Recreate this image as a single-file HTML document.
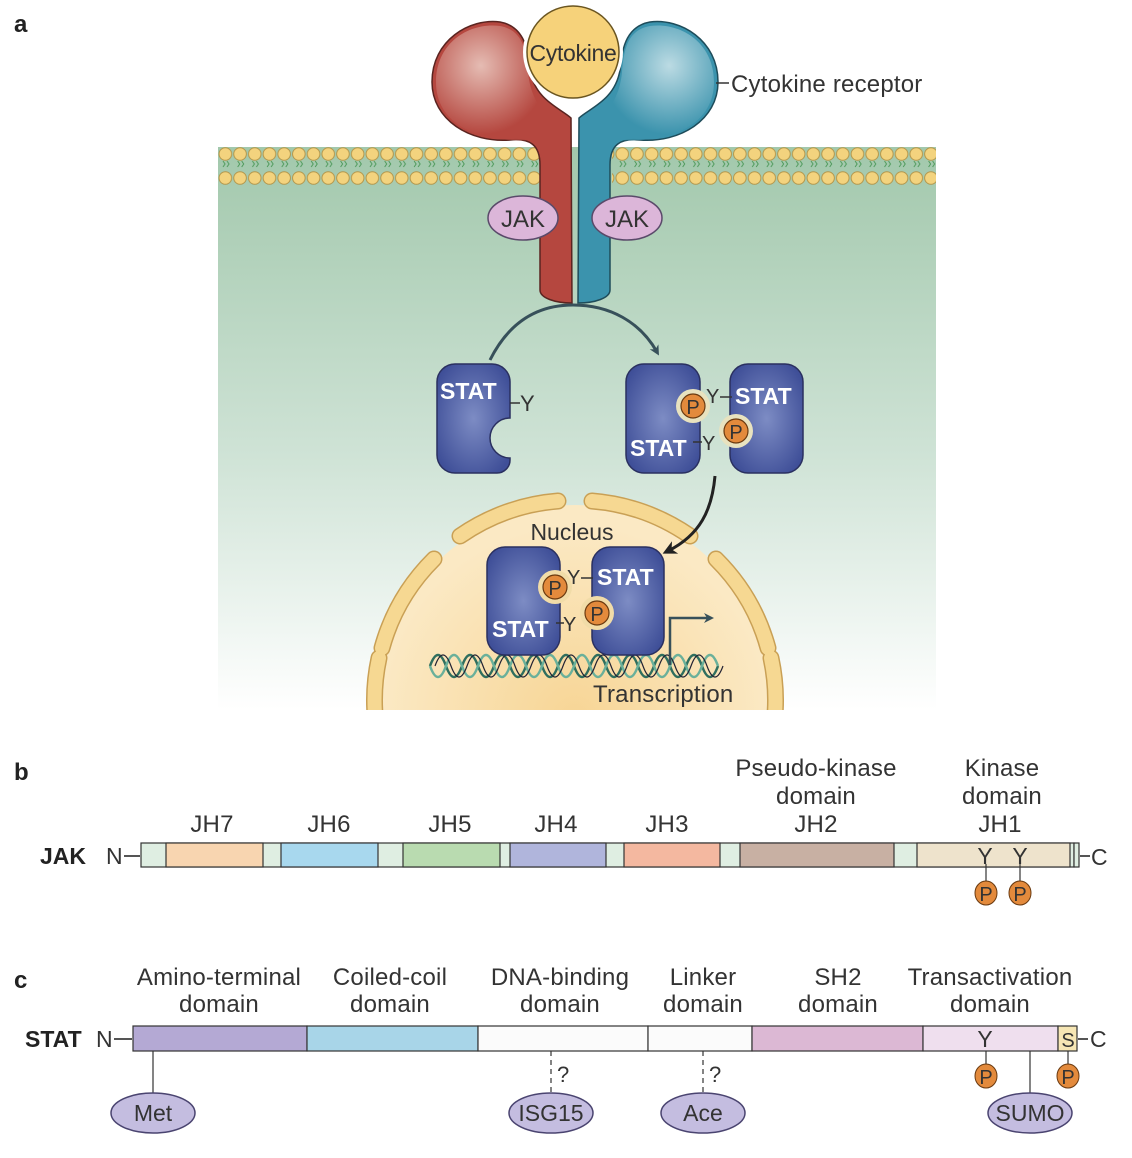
<!DOCTYPE html>
<html><head><meta charset="utf-8"><style>
html,body{margin:0;padding:0;background:#fff}
svg{display:block}
text{font-family:"Liberation Sans",sans-serif;fill:#333}
</style></head><body>
<svg width="1132" height="1158" viewBox="0 0 1132 1158" xmlns="http://www.w3.org/2000/svg">
<defs>
<linearGradient id="bg" x1="0" y1="0" x2="0" y2="1"><stop offset="0" stop-color="#a2c8ac"/><stop offset="0.55" stop-color="#cfe3d6"/><stop offset="1" stop-color="#ffffff"/></linearGradient>
<radialGradient id="nuc" cx="0.5" cy="0.55" r="0.5"><stop offset="0" stop-color="#f7d595"/><stop offset="1" stop-color="#fbe9c4"/></radialGradient>
<radialGradient id="rh" cx="0.4" cy="0.35" r="0.6"><stop offset="0" stop-color="#f1d9d0"/><stop offset="1" stop-color="#b5473f"/></radialGradient>
<radialGradient id="bh" cx="0.6" cy="0.35" r="0.6"><stop offset="0" stop-color="#dcedf1"/><stop offset="1" stop-color="#3b93ad"/></radialGradient>
<radialGradient id="st" cx="0.5" cy="0.5" r="0.6"><stop offset="0" stop-color="#7d8cc4"/><stop offset="1" stop-color="#3f4f98"/></radialGradient>
<pattern id="lip" patternUnits="userSpaceOnUse" x="218" y="147" width="14.7" height="24">
<circle cx="7.35" cy="7" r="6.3" fill="#f3d37e" stroke="#b4964a" stroke-width="1"/>
<path d="M5,14 l2,3 l-2,3 M9,14 l2,3 l-2,3" stroke="#4f9a5c" stroke-width="1" fill="none"/>
</pattern>
<clipPath id="ca"><rect x="218" y="0" width="718" height="710"/></clipPath>
<marker id="ah" markerWidth="10" markerHeight="10" refX="6" refY="5" orient="auto" markerUnits="userSpaceOnUse"><path d="M0,0 L10,5 L0,10 L3,5 Z" fill="#37505a"/></marker>
<marker id="ah2" markerWidth="14" markerHeight="14" refX="8" refY="7" orient="auto" markerUnits="userSpaceOnUse"><path d="M0,0 L14,7 L0,14 L4,7 Z" fill="#222"/></marker>
</defs>

<text x="14" y="32" font-size="24" font-weight="bold" style="fill:#222">a</text>
<text x="14" y="780" font-size="24" font-weight="bold" style="fill:#222">b</text>
<text x="14" y="988" font-size="24" font-weight="bold" style="fill:#222">c</text>

<g clip-path="url(#ca)">
<rect x="218" y="147" width="718" height="563" fill="url(#bg)"/>
<circle cx="575" cy="700" r="195" fill="url(#nuc)"/>
<g fill="none" stroke-linecap="round">
<g stroke="#c9a055" stroke-width="17">
<path d="M460,536 A200,200 0 0 1 558,501"/><path d="M592,501 A200,200 0 0 1 690,536"/>
<path d="M382,648 A200,200 0 0 1 434,559"/><path d="M716,559 A200,200 0 0 1 768,648"/>
<path d="M379,742 A200,200 0 0 1 379,658"/><path d="M771,658 A200,200 0 0 1 771,742"/>
</g>
<g stroke="#f6d892" stroke-width="14">
<path d="M460,536 A200,200 0 0 1 558,501"/><path d="M592,501 A200,200 0 0 1 690,536"/>
<path d="M382,648 A200,200 0 0 1 434,559"/><path d="M716,559 A200,200 0 0 1 768,648"/>
<path d="M379,742 A200,200 0 0 1 379,658"/><path d="M771,658 A200,200 0 0 1 771,742"/>
</g>
</g>
<rect x="218" y="147" width="322" height="38" fill="url(#lip)"/>
<rect x="612" y="147" width="324" height="38" fill="url(#lip)"/>
</g>

<path d="M540,290 L540,165 C540,145 530,138 510,140 C470,143 432,120 432,82 C432,40 470,18 500,22 C522,26 528,45 530,70 C535,100 560,108 571,118 L572,303 C555,303 540,298 540,290 Z" fill="#b5473f" stroke="#5a2420" stroke-width="1.5"/>
<path d="M532,140 C470,143 436,120 436,82 C436,42 470,22 500,26 C522,30 526,48 528,72 C530,95 540,108 548,118 Z" fill="url(#rh)" opacity="0.8"/>
<path d="M610,290 L610,165 C610,145 620,138 640,140 C680,143 718,120 718,82 C718,40 680,18 650,22 C628,26 622,45 620,70 C615,100 590,108 579,118 L578,303 C595,303 610,298 610,290 Z" fill="#3b93ad" stroke="#1e4c5a" stroke-width="1.5"/>
<path d="M618,140 C680,143 714,120 714,82 C714,42 680,22 650,26 C628,30 624,48 622,72 C620,95 610,108 602,118 Z" fill="url(#bh)" opacity="0.8"/>
<circle cx="573" cy="52" r="50" fill="#fff"/>
<circle cx="573" cy="52" r="46" fill="#f6d27a" stroke="#6a5520" stroke-width="1.5"/>
<text x="573" y="61" font-size="23" text-anchor="middle" letter-spacing="-0.3">Cytokine</text>
<line x1="716" y1="83" x2="729" y2="83" stroke="#333" stroke-width="1.5"/>
<text x="731" y="92" font-size="24" letter-spacing="0.2">Cytokine receptor</text>
<ellipse cx="523" cy="218" rx="35" ry="22" fill="#dcb6d9" stroke="#5a4a6a" stroke-width="1.5"/>
<text x="523" y="227" font-size="24" text-anchor="middle">JAK</text>
<ellipse cx="627" cy="218" rx="35" ry="22" fill="#dcb6d9" stroke="#5a4a6a" stroke-width="1.5"/>
<text x="627" y="227" font-size="24" text-anchor="middle">JAK</text>

<path d="M490,360 C510,320 540,305 573,305 C610,305 640,322 657,352" fill="none" stroke="#37505a" stroke-width="3" marker-end="url(#ah)"/>

<path d="M455,364 H492 A18,18 0 0 1 510,382 V418 A20,20 0 0 0 510,458 V460 A13,13 0 0 1 497,473 H455 A18,18 0 0 1 437,455 V382 A18,18 0 0 1 455,364 Z" fill="url(#st)" stroke="#2a3060" stroke-width="1.5"/>
<text x="440" y="399" font-size="23" font-weight="bold" style="fill:#fff">STAT</text>
<line x1="510" y1="403" x2="520" y2="403" stroke="#333" stroke-width="1.5"/>
<text x="520" y="411" font-size="22">Y</text>

<rect x="626" y="364" width="74" height="109" rx="18" fill="url(#st)" stroke="#2a3060" stroke-width="1.5"/>
<rect x="730" y="364" width="73" height="109" rx="18" fill="url(#st)" stroke="#2a3060" stroke-width="1.5"/>
<circle cx="693" cy="406" r="17" fill="#e8e2bf"/>
<circle cx="736" cy="431" r="17" fill="#e8e2bf"/>
<circle cx="693" cy="406" r="12" fill="#e38a3c" stroke="#6a3a10" stroke-width="1.2"/>
<text x="693" y="414" font-size="20" text-anchor="middle">P</text>
<circle cx="736" cy="431" r="12" fill="#e38a3c" stroke="#6a3a10" stroke-width="1.2"/>
<text x="736" y="439" font-size="20" text-anchor="middle">P</text>
<text x="706" y="403" font-size="20">Y</text>
<line x1="720" y1="397" x2="732" y2="397" stroke="#333" stroke-width="1.5"/>
<text x="735" y="404" font-size="23" font-weight="bold" style="fill:#fff">STAT</text>
<text x="630" y="456" font-size="23" font-weight="bold" style="fill:#fff">STAT</text>
<line x1="693" y1="442" x2="702" y2="442" stroke="#333" stroke-width="1.5"/>
<text x="702" y="450" font-size="20">Y</text>

<path d="M715,476 C712,510 700,535 668,551" fill="none" stroke="#222" stroke-width="3" marker-end="url(#ah2)"/>

<text x="572" y="540" font-size="23" text-anchor="middle">Nucleus</text>

<path d="M430,666 q8,-22 16,0 t16,0 t16,0 t16,0 t16,0 t16,0 t16,0 t16,0 t16,0 t16,0 t16,0 t16,0 t16,0 t16,0 t16,0 t16,0 t16,0 t16,0" fill="none" stroke="#2f6e5e" stroke-width="2.5"/>
<path d="M430,666 q8,22 16,0 t16,0 t16,0 t16,0 t16,0 t16,0 t16,0 t16,0 t16,0 t16,0 t16,0 t16,0 t16,0 t16,0 t16,0 t16,0 t16,0 t16,0" fill="none" stroke="#6ab09a" stroke-width="2.5"/>
<path d="M435,666 q8,-22 16,0 t16,0 t16,0 t16,0 t16,0 t16,0 t16,0 t16,0 t16,0 t16,0 t16,0 t16,0 t16,0 t16,0 t16,0 t16,0 t16,0 t16,0" fill="none" stroke="#223" stroke-width="1.2"/>

<rect x="487" y="547" width="73" height="108" rx="18" fill="url(#st)" stroke="#2a3060" stroke-width="1.5"/>
<rect x="592" y="547" width="72" height="108" rx="18" fill="url(#st)" stroke="#2a3060" stroke-width="1.5"/>
<circle cx="555" cy="587" r="17" fill="#f1dca8"/>
<circle cx="597" cy="613" r="17" fill="#f1dca8"/>
<circle cx="555" cy="587" r="12" fill="#e38a3c" stroke="#6a3a10" stroke-width="1.2"/>
<text x="555" y="595" font-size="20" text-anchor="middle">P</text>
<circle cx="597" cy="613" r="12" fill="#e38a3c" stroke="#6a3a10" stroke-width="1.2"/>
<text x="597" y="621" font-size="20" text-anchor="middle">P</text>
<text x="567" y="584" font-size="20">Y</text>
<line x1="581" y1="578" x2="593" y2="578" stroke="#333" stroke-width="1.5"/>
<text x="597" y="585" font-size="23" font-weight="bold" style="fill:#fff">STAT</text>
<text x="492" y="637" font-size="23" font-weight="bold" style="fill:#fff">STAT</text>
<line x1="556" y1="623" x2="564" y2="623" stroke="#333" stroke-width="1.5"/>
<text x="563" y="631" font-size="20">Y</text>
<path d="M670,665 V618 H710" fill="none" stroke="#37505a" stroke-width="2.5" marker-end="url(#ah)"/>
<text x="593" y="702" font-size="24" letter-spacing="0.2">Transcription</text>

<g font-size="24" letter-spacing="0.2">
<text x="212" y="832" text-anchor="middle">JH7</text>
<text x="329" y="832" text-anchor="middle">JH6</text>
<text x="450" y="832" text-anchor="middle">JH5</text>
<text x="556" y="832" text-anchor="middle">JH4</text>
<text x="667" y="832" text-anchor="middle">JH3</text>
<text x="816" y="776" text-anchor="middle">Pseudo-kinase</text>
<text x="816" y="804" text-anchor="middle">domain</text>
<text x="816" y="832" text-anchor="middle">JH2</text>
<text x="1002" y="776" text-anchor="middle">Kinase</text>
<text x="1002" y="804" text-anchor="middle">domain</text>
<text x="1000" y="832" text-anchor="middle">JH1</text>
</g>
<text x="40" y="864" font-size="23" font-weight="bold" style="fill:#222">JAK</text>
<text x="106" y="864" font-size="23">N</text>
<line x1="124" y1="856" x2="140" y2="856" stroke="#555" stroke-width="2"/>
<rect x="141" y="843" width="933" height="24" fill="#dfeee2" stroke="#333" stroke-width="1.2"/>
<rect x="1074" y="843" width="5" height="24" fill="#dfeee2" stroke="#333" stroke-width="1.2"/>
<g stroke="#333" stroke-width="1.2">
<rect x="166" y="843" width="97" height="24" fill="#f8d5b0"/>
<rect x="281" y="843" width="97" height="24" fill="#a8d8ee"/>
<rect x="403" y="843" width="97" height="24" fill="#b9dbb0"/>
<rect x="510" y="843" width="96" height="24" fill="#b0b5dc"/>
<rect x="624" y="843" width="96" height="24" fill="#f4b8a0"/>
<rect x="740" y="843" width="154" height="24" fill="#c8b0a3"/>
<rect x="917" y="843" width="153" height="24" fill="#eee3cc"/>
</g>
<line x1="1080" y1="856" x2="1090" y2="856" stroke="#555" stroke-width="2"/>
<text x="1091" y="865" font-size="23">C</text>
<text x="985" y="864" font-size="23" text-anchor="middle">Y</text>
<text x="1020" y="864" font-size="23" text-anchor="middle">Y</text>
<line x1="986" y1="864" x2="986" y2="881" stroke="#333" stroke-width="1.2"/>
<line x1="1020" y1="864" x2="1020" y2="881" stroke="#333" stroke-width="1.2"/>
<ellipse cx="986" cy="893" rx="11" ry="12" fill="#e38a3c" stroke="#6a3a10"/>
<text x="986" y="901" font-size="20" text-anchor="middle">P</text>
<ellipse cx="1020" cy="893" rx="11" ry="12" fill="#e38a3c" stroke="#6a3a10"/>
<text x="1020" y="901" font-size="20" text-anchor="middle">P</text>

<g font-size="24" letter-spacing="0.2" text-anchor="middle">
<text x="219" y="985">Amino-terminal</text><text x="219" y="1012">domain</text>
<text x="390" y="985">Coiled-coil</text><text x="390" y="1012">domain</text>
<text x="560" y="985">DNA-binding</text><text x="560" y="1012">domain</text>
<text x="703" y="985">Linker</text><text x="703" y="1012">domain</text>
<text x="838" y="985">SH2</text><text x="838" y="1012">domain</text>
<text x="990" y="985">Transactivation</text><text x="990" y="1012">domain</text>
</g>
<text x="25" y="1047" font-size="23" font-weight="bold" style="fill:#222">STAT</text>
<text x="96" y="1047" font-size="23">N</text>
<line x1="114" y1="1039" x2="132" y2="1039" stroke="#555" stroke-width="2"/>
<g stroke="#333" stroke-width="1.2">
<rect x="133" y="1026" width="174" height="25" fill="#b4a9d4"/>
<rect x="307" y="1026" width="171" height="25" fill="#a8d5e8"/>
<rect x="478" y="1026" width="170" height="25" fill="#fbfbfb"/>
<rect x="648" y="1026" width="104" height="25" fill="#fbfbfb"/>
<rect x="752" y="1026" width="171" height="25" fill="#dcb8d4"/>
<rect x="923" y="1026" width="135" height="25" fill="#efdfee"/>
<rect x="1058" y="1026" width="19" height="25" fill="#f6e6b4"/>
</g>
<text x="1068" y="1047" font-size="20" text-anchor="middle">S</text>
<line x1="1078" y1="1039" x2="1088" y2="1039" stroke="#555" stroke-width="2"/>
<text x="1090" y="1047" font-size="23">C</text>
<text x="985" y="1047" font-size="23" text-anchor="middle">Y</text>
<line x1="986" y1="1051" x2="986" y2="1064" stroke="#333" stroke-width="1.2"/>
<ellipse cx="986" cy="1076" rx="11" ry="12" fill="#e38a3c" stroke="#6a3a10"/>
<text x="986" y="1084" font-size="20" text-anchor="middle">P</text>
<line x1="1068" y1="1051" x2="1068" y2="1064" stroke="#333" stroke-width="1.2"/>
<ellipse cx="1068" cy="1076" rx="11" ry="12" fill="#e38a3c" stroke="#6a3a10"/>
<text x="1068" y="1084" font-size="20" text-anchor="middle">P</text>
<line x1="153" y1="1051" x2="153" y2="1093" stroke="#333" stroke-width="1.2"/>
<line x1="551" y1="1051" x2="551" y2="1093" stroke="#333" stroke-width="1.2" stroke-dasharray="5,4"/>
<line x1="703" y1="1051" x2="703" y2="1093" stroke="#333" stroke-width="1.2" stroke-dasharray="5,4"/>
<line x1="1030" y1="1051" x2="1030" y2="1093" stroke="#333" stroke-width="1.2"/>
<text x="557" y="1082" font-size="22">?</text>
<text x="709" y="1082" font-size="22">?</text>
<g stroke="#4a4470" stroke-width="1.5" fill="#c4bde0">
<ellipse cx="153" cy="1113" rx="42" ry="20"/>
<ellipse cx="551" cy="1113" rx="42" ry="20"/>
<ellipse cx="703" cy="1113" rx="42" ry="20"/>
<ellipse cx="1030" cy="1113" rx="42" ry="20"/>
</g>
<g font-size="23" text-anchor="middle">
<text x="153" y="1121">Met</text>
<text x="551" y="1121">ISG15</text>
<text x="703" y="1121">Ace</text>
<text x="1030" y="1121">SUMO</text>
</g>
</svg>
</body></html>
